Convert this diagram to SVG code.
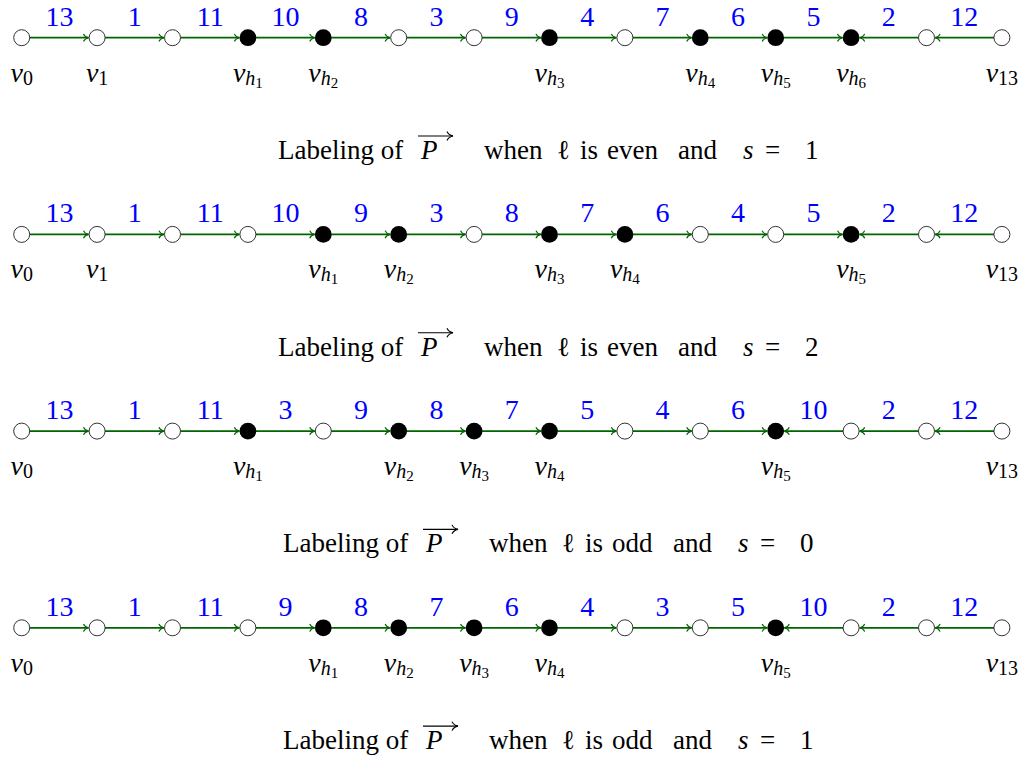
<svg xmlns="http://www.w3.org/2000/svg" width="1026" height="767" viewBox="0 0 1026 767">
<defs>
<marker id="ah" viewBox="-6 -5 7 10" refX="0" refY="0" markerWidth="7" markerHeight="10" markerUnits="userSpaceOnUse" orient="auto"><path d="M-5,-3.8 C-4,-1.5 -2,-0.4 0,0 C-2,0.4 -4,1.5 -5,3.8" fill="none" stroke="#006400" stroke-width="1.1"/></marker>
<marker id="ahk" viewBox="-7 -6 8 12" refX="0" refY="0" markerWidth="8" markerHeight="12" markerUnits="userSpaceOnUse" orient="auto"><path d="M-6,-4.5 C-4.8,-1.8 -2.4,-0.5 0,0 C-2.4,0.5 -4.8,1.8 -6,4.5" fill="none" stroke="#000" stroke-width="1.1"/></marker>
</defs>
<style>
.w{fill:#fff;stroke:#000;stroke-width:0.8}
.b{fill:#000}
.e{stroke:#006400;stroke-width:1.7;marker-end:url(#ah)}
.ov{stroke:#000;stroke-width:1.1;marker-end:url(#ahk)}
</style>

<g id="connectors">
<line class="e" x1="29.7" y1="37.7" x2="88.5" y2="37.7"/>
<line class="e" x1="105.1" y1="37.7" x2="163.9" y2="37.7"/>
<line class="e" x1="180.5" y1="37.7" x2="239.3" y2="37.7"/>
<line class="e" x1="255.9" y1="37.7" x2="314.7" y2="37.7"/>
<line class="e" x1="331.3" y1="37.7" x2="390.1" y2="37.7"/>
<line class="e" x1="406.7" y1="37.7" x2="465.5" y2="37.7"/>
<line class="e" x1="482.1" y1="37.7" x2="540.9" y2="37.7"/>
<line class="e" x1="557.5" y1="37.7" x2="616.3" y2="37.7"/>
<line class="e" x1="632.9" y1="37.7" x2="691.7" y2="37.7"/>
<line class="e" x1="708.3" y1="37.7" x2="767.1" y2="37.7"/>
<line class="e" x1="783.7" y1="37.7" x2="842.5" y2="37.7"/>
<line class="e" x1="918.5" y1="37.7" x2="859.7" y2="37.7"/>
<line class="e" x1="993.9" y1="37.7" x2="935.1" y2="37.7"/>
<line class="e" x1="29.7" y1="234.4" x2="88.5" y2="234.4"/>
<line class="e" x1="105.1" y1="234.4" x2="163.9" y2="234.4"/>
<line class="e" x1="180.5" y1="234.4" x2="239.3" y2="234.4"/>
<line class="e" x1="255.9" y1="234.4" x2="314.7" y2="234.4"/>
<line class="e" x1="331.3" y1="234.4" x2="390.1" y2="234.4"/>
<line class="e" x1="406.7" y1="234.4" x2="465.5" y2="234.4"/>
<line class="e" x1="482.1" y1="234.4" x2="540.9" y2="234.4"/>
<line class="e" x1="557.5" y1="234.4" x2="616.3" y2="234.4"/>
<line class="e" x1="632.9" y1="234.4" x2="691.7" y2="234.4"/>
<line class="e" x1="708.3" y1="234.4" x2="767.1" y2="234.4"/>
<line class="e" x1="783.7" y1="234.4" x2="842.5" y2="234.4"/>
<line class="e" x1="918.5" y1="234.4" x2="859.7" y2="234.4"/>
<line class="e" x1="993.9" y1="234.4" x2="935.1" y2="234.4"/>
<line class="e" x1="29.7" y1="431.1" x2="88.5" y2="431.1"/>
<line class="e" x1="105.1" y1="431.1" x2="163.9" y2="431.1"/>
<line class="e" x1="180.5" y1="431.1" x2="239.3" y2="431.1"/>
<line class="e" x1="255.9" y1="431.1" x2="314.7" y2="431.1"/>
<line class="e" x1="331.3" y1="431.1" x2="390.1" y2="431.1"/>
<line class="e" x1="406.7" y1="431.1" x2="465.5" y2="431.1"/>
<line class="e" x1="482.1" y1="431.1" x2="540.9" y2="431.1"/>
<line class="e" x1="557.5" y1="431.1" x2="616.3" y2="431.1"/>
<line class="e" x1="632.9" y1="431.1" x2="691.7" y2="431.1"/>
<line class="e" x1="708.3" y1="431.1" x2="767.1" y2="431.1"/>
<line class="e" x1="843.1" y1="431.1" x2="784.3" y2="431.1"/>
<line class="e" x1="918.5" y1="431.1" x2="859.7" y2="431.1"/>
<line class="e" x1="993.9" y1="431.1" x2="935.1" y2="431.1"/>
<line class="e" x1="29.7" y1="627.8" x2="88.5" y2="627.8"/>
<line class="e" x1="105.1" y1="627.8" x2="163.9" y2="627.8"/>
<line class="e" x1="180.5" y1="627.8" x2="239.3" y2="627.8"/>
<line class="e" x1="255.9" y1="627.8" x2="314.7" y2="627.8"/>
<line class="e" x1="331.3" y1="627.8" x2="390.1" y2="627.8"/>
<line class="e" x1="406.7" y1="627.8" x2="465.5" y2="627.8"/>
<line class="e" x1="482.1" y1="627.8" x2="540.9" y2="627.8"/>
<line class="e" x1="557.5" y1="627.8" x2="616.3" y2="627.8"/>
<line class="e" x1="632.9" y1="627.8" x2="691.7" y2="627.8"/>
<line class="e" x1="708.3" y1="627.8" x2="767.1" y2="627.8"/>
<line class="e" x1="843.1" y1="627.8" x2="784.3" y2="627.8"/>
<line class="e" x1="918.5" y1="627.8" x2="859.7" y2="627.8"/>
<line class="e" x1="993.9" y1="627.8" x2="935.1" y2="627.8"/>
</g>

<g id="edge-labels" fill="#0000ff" text-anchor="middle" font-size="28">
<text font-family="Liberation Serif" x="59.4" y="25.7">13</text><text font-family="Liberation Serif" x="134.8" y="25.7">1</text><text font-family="Liberation Serif" x="210.2" y="25.7">11</text><text font-family="Liberation Serif" x="285.6" y="25.7">10</text><text font-family="Liberation Serif" x="361" y="25.7">8</text><text font-family="Liberation Serif" x="436.4" y="25.7">3</text><text font-family="Liberation Serif" x="511.8" y="25.7">9</text><text font-family="Liberation Serif" x="587.2" y="25.7">4</text><text font-family="Liberation Serif" x="662.6" y="25.7">7</text><text font-family="Liberation Serif" x="738" y="25.7">6</text><text font-family="Liberation Serif" x="813.4" y="25.7">5</text><text font-family="Liberation Serif" x="888.8" y="25.7">2</text><text font-family="Liberation Serif" x="964.2" y="25.7">12</text>
<text font-family="Liberation Serif" x="59.4" y="222.4">13</text><text font-family="Liberation Serif" x="134.8" y="222.4">1</text><text font-family="Liberation Serif" x="210.2" y="222.4">11</text><text font-family="Liberation Serif" x="285.6" y="222.4">10</text><text font-family="Liberation Serif" x="361" y="222.4">9</text><text font-family="Liberation Serif" x="436.4" y="222.4">3</text><text font-family="Liberation Serif" x="511.8" y="222.4">8</text><text font-family="Liberation Serif" x="587.2" y="222.4">7</text><text font-family="Liberation Serif" x="662.6" y="222.4">6</text><text font-family="Liberation Serif" x="738" y="222.4">4</text><text font-family="Liberation Serif" x="813.4" y="222.4">5</text><text font-family="Liberation Serif" x="888.8" y="222.4">2</text><text font-family="Liberation Serif" x="964.2" y="222.4">12</text>
<text font-family="Liberation Serif" x="59.4" y="419.1">13</text><text font-family="Liberation Serif" x="134.8" y="419.1">1</text><text font-family="Liberation Serif" x="210.2" y="419.1">11</text><text font-family="Liberation Serif" x="285.6" y="419.1">3</text><text font-family="Liberation Serif" x="361" y="419.1">9</text><text font-family="Liberation Serif" x="436.4" y="419.1">8</text><text font-family="Liberation Serif" x="511.8" y="419.1">7</text><text font-family="Liberation Serif" x="587.2" y="419.1">5</text><text font-family="Liberation Serif" x="662.6" y="419.1">4</text><text font-family="Liberation Serif" x="738" y="419.1">6</text><text font-family="Liberation Serif" x="813.4" y="419.1">10</text><text font-family="Liberation Serif" x="888.8" y="419.1">2</text><text font-family="Liberation Serif" x="964.2" y="419.1">12</text>
<text font-family="Liberation Serif" x="59.4" y="615.8">13</text><text font-family="Liberation Serif" x="134.8" y="615.8">1</text><text font-family="Liberation Serif" x="210.2" y="615.8">11</text><text font-family="Liberation Serif" x="285.6" y="615.8">9</text><text font-family="Liberation Serif" x="361" y="615.8">8</text><text font-family="Liberation Serif" x="436.4" y="615.8">7</text><text font-family="Liberation Serif" x="511.8" y="615.8">6</text><text font-family="Liberation Serif" x="587.2" y="615.8">4</text><text font-family="Liberation Serif" x="662.6" y="615.8">3</text><text font-family="Liberation Serif" x="738" y="615.8">5</text><text font-family="Liberation Serif" x="813.4" y="615.8">10</text><text font-family="Liberation Serif" x="888.8" y="615.8">2</text><text font-family="Liberation Serif" x="964.2" y="615.8">12</text>
</g>

<g id="nodes" text-anchor="middle" font-size="28">
<g id="r1n0"><circle class="w" cx="21.7" cy="37.7" r="8"/><text font-family="Liberation Serif" x="21.7" y="81.7"><tspan font-style="italic">v</tspan><tspan font-size="20" dy="3">0</tspan></text></g>
<g id="r1n1"><circle class="w" cx="97.1" cy="37.7" r="8"/><text font-family="Liberation Serif" x="97.1" y="81.7"><tspan font-style="italic">v</tspan><tspan font-size="20" dy="3">1</tspan></text></g>
<g id="r1n2"><circle class="w" cx="172.5" cy="37.7" r="8"/></g>
<g id="r1n3"><circle class="b" cx="247.9" cy="37.7" r="8.4"/><text font-family="Liberation Serif" x="247.9" y="81.7"><tspan font-style="italic">v</tspan><tspan font-size="20" font-style="italic" dy="3">h</tspan><tspan font-size="15" dy="3">1</tspan></text></g>
<g id="r1n4"><circle class="b" cx="323.3" cy="37.7" r="8.4"/><text font-family="Liberation Serif" x="323.3" y="81.7"><tspan font-style="italic">v</tspan><tspan font-size="20" font-style="italic" dy="3">h</tspan><tspan font-size="15" dy="3">2</tspan></text></g>
<g id="r1n5"><circle class="w" cx="398.7" cy="37.7" r="8"/></g>
<g id="r1n6"><circle class="w" cx="474.1" cy="37.7" r="8"/></g>
<g id="r1n7"><circle class="b" cx="549.5" cy="37.7" r="8.4"/><text font-family="Liberation Serif" x="549.5" y="81.7"><tspan font-style="italic">v</tspan><tspan font-size="20" font-style="italic" dy="3">h</tspan><tspan font-size="15" dy="3">3</tspan></text></g>
<g id="r1n8"><circle class="w" cx="624.9" cy="37.7" r="8"/></g>
<g id="r1n9"><circle class="b" cx="700.3" cy="37.7" r="8.4"/><text font-family="Liberation Serif" x="700.3" y="81.7"><tspan font-style="italic">v</tspan><tspan font-size="20" font-style="italic" dy="3">h</tspan><tspan font-size="15" dy="3">4</tspan></text></g>
<g id="r1n10"><circle class="b" cx="775.7" cy="37.7" r="8.4"/><text font-family="Liberation Serif" x="775.7" y="81.7"><tspan font-style="italic">v</tspan><tspan font-size="20" font-style="italic" dy="3">h</tspan><tspan font-size="15" dy="3">5</tspan></text></g>
<g id="r1n11"><circle class="b" cx="851.1" cy="37.7" r="8.4"/><text font-family="Liberation Serif" x="851.1" y="81.7"><tspan font-style="italic">v</tspan><tspan font-size="20" font-style="italic" dy="3">h</tspan><tspan font-size="15" dy="3">6</tspan></text></g>
<g id="r1n12"><circle class="w" cx="926.5" cy="37.7" r="8"/></g>
<g id="r1n13"><circle class="w" cx="1001.9" cy="37.7" r="8"/><text font-family="Liberation Serif" x="1001.9" y="81.7"><tspan font-style="italic">v</tspan><tspan font-size="20" dy="3">13</tspan></text></g>

<g id="r2n0"><circle class="w" cx="21.7" cy="234.4" r="8"/><text font-family="Liberation Serif" x="21.7" y="278.4"><tspan font-style="italic">v</tspan><tspan font-size="20" dy="3">0</tspan></text></g>
<g id="r2n1"><circle class="w" cx="97.1" cy="234.4" r="8"/><text font-family="Liberation Serif" x="97.1" y="278.4"><tspan font-style="italic">v</tspan><tspan font-size="20" dy="3">1</tspan></text></g>
<g id="r2n2"><circle class="w" cx="172.5" cy="234.4" r="8"/></g>
<g id="r2n3"><circle class="w" cx="247.9" cy="234.4" r="8"/></g>
<g id="r2n4"><circle class="b" cx="323.3" cy="234.4" r="8.4"/><text font-family="Liberation Serif" x="323.3" y="278.4"><tspan font-style="italic">v</tspan><tspan font-size="20" font-style="italic" dy="3">h</tspan><tspan font-size="15" dy="3">1</tspan></text></g>
<g id="r2n5"><circle class="b" cx="398.7" cy="234.4" r="8.4"/><text font-family="Liberation Serif" x="398.7" y="278.4"><tspan font-style="italic">v</tspan><tspan font-size="20" font-style="italic" dy="3">h</tspan><tspan font-size="15" dy="3">2</tspan></text></g>
<g id="r2n6"><circle class="w" cx="474.1" cy="234.4" r="8"/></g>
<g id="r2n7"><circle class="b" cx="549.5" cy="234.4" r="8.4"/><text font-family="Liberation Serif" x="549.5" y="278.4"><tspan font-style="italic">v</tspan><tspan font-size="20" font-style="italic" dy="3">h</tspan><tspan font-size="15" dy="3">3</tspan></text></g>
<g id="r2n8"><circle class="b" cx="624.9" cy="234.4" r="8.4"/><text font-family="Liberation Serif" x="624.9" y="278.4"><tspan font-style="italic">v</tspan><tspan font-size="20" font-style="italic" dy="3">h</tspan><tspan font-size="15" dy="3">4</tspan></text></g>
<g id="r2n9"><circle class="w" cx="700.3" cy="234.4" r="8"/></g>
<g id="r2n10"><circle class="w" cx="775.7" cy="234.4" r="8"/></g>
<g id="r2n11"><circle class="b" cx="851.1" cy="234.4" r="8.4"/><text font-family="Liberation Serif" x="851.1" y="278.4"><tspan font-style="italic">v</tspan><tspan font-size="20" font-style="italic" dy="3">h</tspan><tspan font-size="15" dy="3">5</tspan></text></g>
<g id="r2n12"><circle class="w" cx="926.5" cy="234.4" r="8"/></g>
<g id="r2n13"><circle class="w" cx="1001.9" cy="234.4" r="8"/><text font-family="Liberation Serif" x="1001.9" y="278.4"><tspan font-style="italic">v</tspan><tspan font-size="20" dy="3">13</tspan></text></g>

<g id="r3n0"><circle class="w" cx="21.7" cy="431.1" r="8"/><text font-family="Liberation Serif" x="21.7" y="475.1"><tspan font-style="italic">v</tspan><tspan font-size="20" dy="3">0</tspan></text></g>
<g id="r3n1"><circle class="w" cx="97.1" cy="431.1" r="8"/></g>
<g id="r3n2"><circle class="w" cx="172.5" cy="431.1" r="8"/></g>
<g id="r3n3"><circle class="b" cx="247.9" cy="431.1" r="8.4"/><text font-family="Liberation Serif" x="247.9" y="475.1"><tspan font-style="italic">v</tspan><tspan font-size="20" font-style="italic" dy="3">h</tspan><tspan font-size="15" dy="3">1</tspan></text></g>
<g id="r3n4"><circle class="w" cx="323.3" cy="431.1" r="8"/></g>
<g id="r3n5"><circle class="b" cx="398.7" cy="431.1" r="8.4"/><text font-family="Liberation Serif" x="398.7" y="475.1"><tspan font-style="italic">v</tspan><tspan font-size="20" font-style="italic" dy="3">h</tspan><tspan font-size="15" dy="3">2</tspan></text></g>
<g id="r3n6"><circle class="b" cx="474.1" cy="431.1" r="8.4"/><text font-family="Liberation Serif" x="474.1" y="475.1"><tspan font-style="italic">v</tspan><tspan font-size="20" font-style="italic" dy="3">h</tspan><tspan font-size="15" dy="3">3</tspan></text></g>
<g id="r3n7"><circle class="b" cx="549.5" cy="431.1" r="8.4"/><text font-family="Liberation Serif" x="549.5" y="475.1"><tspan font-style="italic">v</tspan><tspan font-size="20" font-style="italic" dy="3">h</tspan><tspan font-size="15" dy="3">4</tspan></text></g>
<g id="r3n8"><circle class="w" cx="624.9" cy="431.1" r="8"/></g>
<g id="r3n9"><circle class="w" cx="700.3" cy="431.1" r="8"/></g>
<g id="r3n10"><circle class="b" cx="775.7" cy="431.1" r="8.4"/><text font-family="Liberation Serif" x="775.7" y="475.1"><tspan font-style="italic">v</tspan><tspan font-size="20" font-style="italic" dy="3">h</tspan><tspan font-size="15" dy="3">5</tspan></text></g>
<g id="r3n11"><circle class="w" cx="851.1" cy="431.1" r="8"/></g>
<g id="r3n12"><circle class="w" cx="926.5" cy="431.1" r="8"/></g>
<g id="r3n13"><circle class="w" cx="1001.9" cy="431.1" r="8"/><text font-family="Liberation Serif" x="1001.9" y="475.1"><tspan font-style="italic">v</tspan><tspan font-size="20" dy="3">13</tspan></text></g>

<g id="r4n0"><circle class="w" cx="21.7" cy="627.8" r="8"/><text font-family="Liberation Serif" x="21.7" y="671.8"><tspan font-style="italic">v</tspan><tspan font-size="20" dy="3">0</tspan></text></g>
<g id="r4n1"><circle class="w" cx="97.1" cy="627.8" r="8"/></g>
<g id="r4n2"><circle class="w" cx="172.5" cy="627.8" r="8"/></g>
<g id="r4n3"><circle class="w" cx="247.9" cy="627.8" r="8"/></g>
<g id="r4n4"><circle class="b" cx="323.3" cy="627.8" r="8.4"/><text font-family="Liberation Serif" x="323.3" y="671.8"><tspan font-style="italic">v</tspan><tspan font-size="20" font-style="italic" dy="3">h</tspan><tspan font-size="15" dy="3">1</tspan></text></g>
<g id="r4n5"><circle class="b" cx="398.7" cy="627.8" r="8.4"/><text font-family="Liberation Serif" x="398.7" y="671.8"><tspan font-style="italic">v</tspan><tspan font-size="20" font-style="italic" dy="3">h</tspan><tspan font-size="15" dy="3">2</tspan></text></g>
<g id="r4n6"><circle class="b" cx="474.1" cy="627.8" r="8.4"/><text font-family="Liberation Serif" x="474.1" y="671.8"><tspan font-style="italic">v</tspan><tspan font-size="20" font-style="italic" dy="3">h</tspan><tspan font-size="15" dy="3">3</tspan></text></g>
<g id="r4n7"><circle class="b" cx="549.5" cy="627.8" r="8.4"/><text font-family="Liberation Serif" x="549.5" y="671.8"><tspan font-style="italic">v</tspan><tspan font-size="20" font-style="italic" dy="3">h</tspan><tspan font-size="15" dy="3">4</tspan></text></g>
<g id="r4n8"><circle class="w" cx="624.9" cy="627.8" r="8"/></g>
<g id="r4n9"><circle class="w" cx="700.3" cy="627.8" r="8"/></g>
<g id="r4n10"><circle class="b" cx="775.7" cy="627.8" r="8.4"/><text font-family="Liberation Serif" x="775.7" y="671.8"><tspan font-style="italic">v</tspan><tspan font-size="20" font-style="italic" dy="3">h</tspan><tspan font-size="15" dy="3">5</tspan></text></g>
<g id="r4n11"><circle class="w" cx="851.1" cy="627.8" r="8"/></g>
<g id="r4n12"><circle class="w" cx="926.5" cy="627.8" r="8"/></g>
<g id="r4n13"><circle class="w" cx="1001.9" cy="627.8" r="8"/><text font-family="Liberation Serif" x="1001.9" y="671.8"><tspan font-style="italic">v</tspan><tspan font-size="20" dy="3">13</tspan></text></g>
</g>

<g id="captions" font-size="27">
<g id="caption1">
<text font-family="Liberation Serif" y="159"><tspan x="278">Labeling of</tspan><tspan x="421" font-style="italic">P</tspan><tspan x="484">when</tspan><tspan x="557">ℓ</tspan><tspan x="580">is</tspan><tspan x="607">even</tspan><tspan x="678">and</tspan><tspan x="743" font-style="italic">s</tspan><tspan x="765">=</tspan><tspan x="805">1</tspan></text>
<line class="ov" x1="418" y1="136" x2="453" y2="136"/>
</g>
<g id="caption2">
<text font-family="Liberation Serif" y="355.7"><tspan x="278">Labeling of</tspan><tspan x="421" font-style="italic">P</tspan><tspan x="484">when</tspan><tspan x="557">ℓ</tspan><tspan x="580">is</tspan><tspan x="607">even</tspan><tspan x="678">and</tspan><tspan x="743" font-style="italic">s</tspan><tspan x="765">=</tspan><tspan x="805">2</tspan></text>
<line class="ov" x1="418" y1="332.7" x2="453" y2="332.7"/>
</g>
<g id="caption3">
<text font-family="Liberation Serif" y="552.4"><tspan x="283">Labeling of</tspan><tspan x="426" font-style="italic">P</tspan><tspan x="489">when</tspan><tspan x="562">ℓ</tspan><tspan x="585">is</tspan><tspan x="612">odd</tspan><tspan x="673">and</tspan><tspan x="738" font-style="italic">s</tspan><tspan x="760">=</tspan><tspan x="800">0</tspan></text>
<line class="ov" x1="423" y1="529.4" x2="458" y2="529.4"/>
</g>
<g id="caption4">
<text font-family="Liberation Serif" y="749.1"><tspan x="283">Labeling of</tspan><tspan x="426" font-style="italic">P</tspan><tspan x="489">when</tspan><tspan x="562">ℓ</tspan><tspan x="585">is</tspan><tspan x="612">odd</tspan><tspan x="673">and</tspan><tspan x="738" font-style="italic">s</tspan><tspan x="760">=</tspan><tspan x="800">1</tspan></text>
<line class="ov" x1="423" y1="726.1" x2="458" y2="726.1"/>
</g>
</g>
</svg>
